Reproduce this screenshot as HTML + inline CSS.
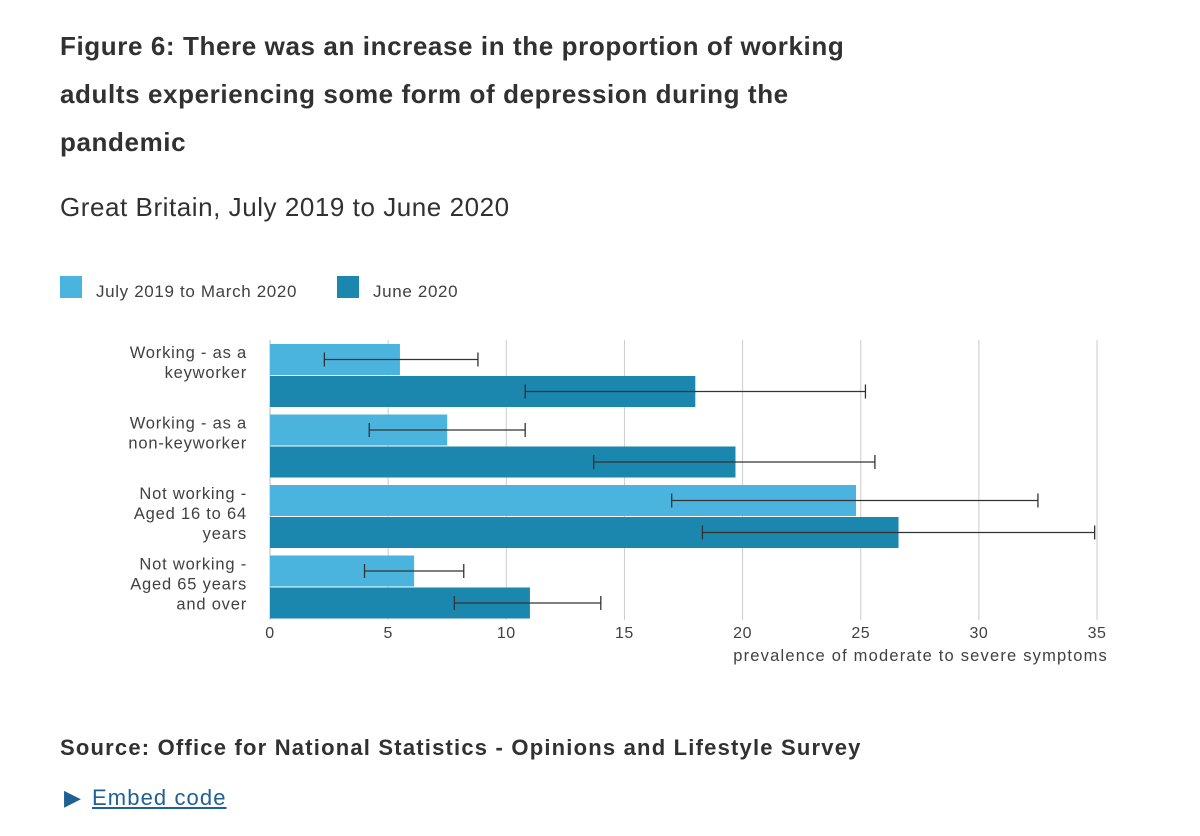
<!DOCTYPE html>
<html><head><meta charset="utf-8"><style>
body{margin:0;width:1200px;height:836px;background:#fff;font-family:"Liberation Sans",sans-serif;color:#323132;overflow:hidden}
.t{position:absolute;left:60px;top:22px;font-size:26px;font-weight:bold;line-height:48px;white-space:nowrap;letter-spacing:0.6px}
.s{position:absolute;left:60px;top:192px;font-size:26px;letter-spacing:0.55px}
.src{position:absolute;left:60px;top:735px;font-size:22px;font-weight:bold;letter-spacing:1.2px}
.emb{position:absolute;left:64px;top:785px;font-size:22px;color:#206095;letter-spacing:1.1px}
.emb u{margin-left:10px}
svg text{font-family:"Liberation Sans",sans-serif;fill:#414042}
</style></head><body>
<div class="t">Figure 6: There was an increase in the proportion of working<br>adults experiencing some form of depression during the<br>pandemic</div>
<div class="s">Great Britain, July 2019 to June 2020</div>
<svg id="c" width="1200" height="836" style="position:absolute;left:0;top:0"></svg>
<div class="src">Source: Office for National Statistics - Opinions and Lifestyle Survey</div>
<div class="emb">▶<u>Embed code</u></div>
<script>
const categories=[["Working - as a","keyworker"],["Working - as a","non-keyworker"],["Not working -","Aged 16 to 64","years"],["Not working -","Aged 65 years","and over"]];
const seriesNames=["July 2019 to March 2020","June 2020"];
const prePandemic=[5.5,7.5,24.8,6.1];
const june2020=[18,19.7,26.6,11];
const preLow=[2.3,4.2,17,4];
const preHigh=[8.8,10.8,32.5,8.2];
const junLow=[10.8,13.7,18.3,7.8];
const junHigh=[25.2,25.6,34.9,14];
const ticks=[0,5,10,15,20,25,30,35];
const svg=document.getElementById('c');
const NS='http://www.w3.org/2000/svg';
const colors=['#4ab4de','#1b86ae'];
const x0=270,x1=1097,xmax=35;
const xs=v=>x0+(x1-x0)*v/xmax;
const top0=344,groupH=70.5,barH=31;
function mk(t,a){const e=document.createElementNS(NS,t);for(const k in a)e.setAttribute(k,a[k]);svg.appendChild(e);return e;}
ticks.forEach(t=>{
 const g=mk('line',{x1:xs(t),x2:xs(t),y1:340,y2:620,stroke:t===0?'#bbb':'#ccc','stroke-width':1});
 
 
 const tx=mk('text',{x:xs(t),y:638,'font-size':16,'text-anchor':'middle','letter-spacing':0.5});tx.textContent=t;
 
 
});
const at=mk('text',{x:1108,y:661,'font-size':16.5,'text-anchor':'end','letter-spacing':1.2});at.textContent='prevalence of moderate to severe symptoms';


const series=[[prePandemic,preLow,preHigh],[june2020,junLow,junHigh]];
categories.forEach((c,i)=>{
 const gy=top0+i*groupH;
 series.forEach((s,j)=>{
  const y=gy+j*(barH+1);
  const r=mk('rect',{x:x0,y:y,width:xs(s[0][i])-x0,height:barH,fill:colors[j]});
  
  
  const cy=y+barH/2,a=xs(s[1][i]),b=xs(s[2][i]);
  const e=mk('path',{d:`M${a},${cy}H${b}M${a},${cy-7}V${cy+7}M${b},${cy-7}V${cy+7}`,stroke:'#333','stroke-width':1.3,fill:'none'});
  
  
 });
 const lh=20;
 c.forEach((l,k)=>{
  const t=mk('text',{x:247,y:gy+14+k*lh,'font-size':16.5,'text-anchor':'end','letter-spacing':0.8});t.textContent=l;
  
  
 });
});
const lx=[60,337];
seriesNames.forEach((n,j)=>{
 const r=mk('rect',{x:lx[j],y:276,width:22,height:22,fill:colors[j]});
 
 
 const t=mk('text',{x:lx[j]+36,y:297,'font-size':17,'letter-spacing':0.65});t.textContent=n;
 
 
});
</script>
</body></html>
